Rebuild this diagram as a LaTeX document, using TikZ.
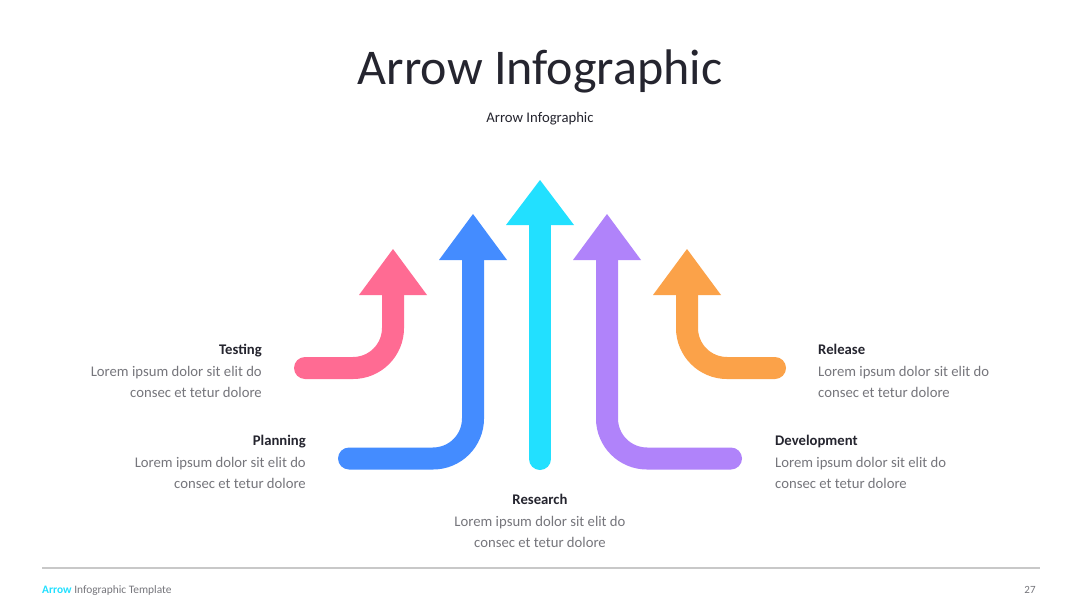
\documentclass[tikz,border=0pt]{standalone}
\usepackage{fontspec}
\setmainfont{Carlito}
\definecolor{cpink}{RGB}{255,107,147}
\definecolor{cblue}{RGB}{68,140,255}
\definecolor{ccyan}{RGB}{34,224,255}
\definecolor{cpurple}{RGB}{176,131,250}
\definecolor{corange}{RGB}{251,162,73}
\definecolor{ctitle}{RGB}{37,37,47}
\definecolor{cbody}{RGB}{118,118,124}
\definecolor{crule}{RGB}{200,200,200}
\begin{document}
\begin{tikzpicture}[x=1pt,y=-1pt,
  shaft/.style={line width=22pt,line cap=round,rounded corners=40pt},
  hd/.style={inner sep=0pt,font=\fontsize{14.7}{16}\selectfont\bfseries,text=ctitle},
  bd/.style={inner sep=0pt,font=\fontsize{14.7}{16}\selectfont,text=cbody}]
\useasboundingbox[fill=white] (0,0) rectangle (1080,608);
% title
\node[inner sep=0pt,anchor=base,font=\fontsize{50}{56}\selectfont,text=ctitle] (title) at (540,84) {Arrow Infographic};
\node[inner sep=0pt,anchor=base,font=\fontsize{14.7}{16}\selectfont,text=ctitle] (subtitle) at (540,122) {Arrow Infographic};
% arrows
\coordinate (pinkS) at (305,368); \coordinate (pinkC) at (393,368); \coordinate (pinkT) at (393,295);
\draw[shaft,cpink] (pinkS) -- (pinkC) -- (pinkT);
\fill[cpink] (359,295) -- (393,249) -- (427,295) -- cycle;
\coordinate (blueS) at (349,458.5); \coordinate (blueC) at (473,458.5); \coordinate (blueT) at (473,260);
\draw[shaft,cblue] (blueS) -- (blueC) -- (blueT);
\fill[cblue] (439,260) -- (473,214) -- (507,260) -- cycle;
\coordinate (cyanS) at (540,459); \coordinate (cyanT) at (540,225);
\draw[shaft,ccyan] (cyanS) -- (cyanT);
\fill[ccyan] (506,225) -- (540,180) -- (574,225) -- cycle;
\coordinate (purS) at (731,458.5); \coordinate (purC) at (607,458.5); \coordinate (purT) at (607,260);
\draw[shaft,cpurple] (purS) -- (purC) -- (purT);
\fill[cpurple] (573,260) -- (607,214) -- (641,260) -- cycle;
\coordinate (orS) at (775,368); \coordinate (orC) at (687,368); \coordinate (orT) at (687,295);
\draw[shaft,corange] (orS) -- (orC) -- (orT);
\fill[corange] (653,295) -- (687,249) -- (721,295) -- cycle;
% Testing
\node[hd,anchor=base east] (testh) at (262,354) {Testing};
\node[bd,anchor=base east] (test1) at (262,376) {Lorem ipsum dolor sit elit do};
\node[bd,anchor=base east] (test2) at (262,397) {consec et tetur dolore};
% Planning
\node[hd,anchor=base east] (planh) at (306,445) {Planning};
\node[bd,anchor=base east] (plan1) at (306,467) {Lorem ipsum dolor sit elit do};
\node[bd,anchor=base east] (plan2) at (306,488) {consec et tetur dolore};
% Research
\node[hd,anchor=base] (resh) at (540,504) {Research};
\node[bd,anchor=base] (res1) at (540,526) {Lorem ipsum dolor sit elit do};
\node[bd,anchor=base] (res2) at (540,547) {consec et tetur dolore};
% Release
\node[hd,anchor=base west] (relh) at (818,354) {Release};
\node[bd,anchor=base west] (rel1) at (818,376) {Lorem ipsum dolor sit elit do};
\node[bd,anchor=base west] (rel2) at (818,397) {consec et tetur dolore};
% Development
\node[hd,anchor=base west] (devh) at (775,445) {Development};
\node[bd,anchor=base west] (dev1) at (775,467) {Lorem ipsum dolor sit elit do};
\node[bd,anchor=base west] (dev2) at (775,488) {consec et tetur dolore};
% footer
\coordinate (ruleL) at (42,568); \coordinate (ruleR) at (1040,568);
\draw[crule,line width=1.5pt] (ruleL) -- (ruleR);
\node[inner sep=0pt,anchor=base west,font=\fontsize{11.4}{13}\selectfont,text=cbody] (foot) at (42,593) {\textcolor{ccyan}{\bfseries Arrow} Infographic Template};
\node[inner sep=0pt,anchor=base,font=\fontsize{11}{13}\selectfont,text=cbody] (page) at (1030,593) {27};
\end{tikzpicture}
\end{document}
